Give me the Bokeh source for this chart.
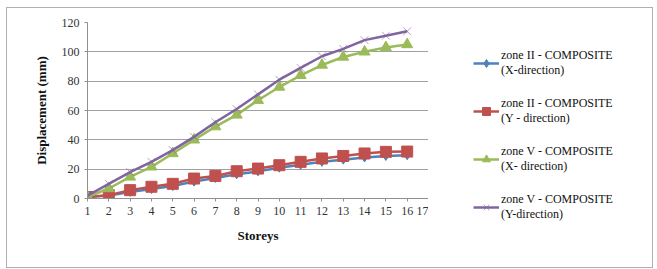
from bokeh.plotting import figure
from bokeh.models import Legend, LegendItem, FixedTicker, Range1d
from bokeh.layouts import row
from bokeh.embed import file_html
from bokeh.resources import INLINE

storeys = list(range(1, 17))
zone2_x = [1, 2, 4.5, 6.5, 8.5, 11.5, 14, 16.5, 18.5, 21, 23, 25, 26.5, 28, 29, 29.5]
zone2_y = [1, 2.3, 5.7, 8, 10, 13.6, 15.4, 18.6, 20.4, 22.7, 25, 27.3, 29, 30.7, 31.8, 32]
zone5_x = [1, 6.8, 14.7, 21.6, 30.7, 40, 49, 57, 67, 76, 84, 91, 96.5, 100, 103, 105]
zone5_y = [2, 10, 18, 25, 33, 42, 52, 61, 71, 81, 89, 97, 102, 108, 111, 114]
labels = ["zone II - COMPOSITE\n(X-direction)", "zone II - COMPOSITE\n(Y - direction)",
          "zone V - COMPOSITE\n(X- direction)", "zone V - COMPOSITE\n(Y-direction)"]
x_ticks = list(range(1, 18))
y_ticks = [0, 20, 40, 60, 80, 100, 120]

serif = "'Liberation Serif', 'Times New Roman', serif"
H = 259

p = figure(width=421, height=H, output_backend="svg", toolbar_location=None,
           x_range=Range1d(1, 17), y_range=Range1d(0, 120),
           min_border_left=80, min_border_right=0, min_border_top=14, min_border_bottom=69)
p.outline_line_color = None

p.xaxis.ticker = FixedTicker(ticks=x_ticks)
p.yaxis.ticker = FixedTicker(ticks=y_ticks)
p.xgrid.visible = False
p.ygrid.grid_line_color = "#a0a0a0"
p.ygrid.grid_line_width = 1
for ax in (p.xaxis, p.yaxis):
    ax.axis_line_color = "#909090"
    ax.major_tick_line_color = "#909090"
    ax.major_tick_out = 3
    ax.major_tick_in = 0
    ax.minor_tick_line_color = None
    ax.major_label_text_font = serif
    ax.major_label_text_font_size = "12px"
    ax.major_label_text_color = "#333333"
    ax.axis_label_text_font = serif
    ax.axis_label_text_font_style = "bold"
    ax.axis_label_text_font_size = "13px"
    ax.axis_label_text_color = "#111111"
p.xaxis.axis_label = "Storeys"
p.yaxis.axis_label = "Displacement (mm)"
p.xaxis.axis_label_standoff = 10
p.yaxis.axis_label_standoff = 10

# legend panel: same series drawn off-view so the legend can sit beside the chart
q = figure(width=224, height=H, output_backend="svg", toolbar_location=None,
           x_range=Range1d(100, 101), y_range=Range1d(0, 120),
           x_axis_type=None, y_axis_type=None,
           min_border_left=0, min_border_right=0, min_border_top=0, min_border_bottom=0)
q.frame_align = False
q.outline_line_color = None
q.grid.visible = False

colors = ["#4F81BD", "#C0504D", "#9BBB59", "#8064A2"]
series = [zone2_x, zone2_y, zone5_x, zone5_y]
markers = ["diamond", "square", "triangle", "x"]
sizes = [9, 11, 11, 11]
items = []
for ys, c, m, s, lab in zip(series, colors, markers, sizes, labels):
    for fig in (p, q):
        l = fig.line(storeys, ys, line_color=c, line_width=2.5)
        if m == "x":
            sc = fig.scatter(storeys, ys, marker=m, size=s, line_color=c, line_alpha=0.6, line_width=1)
        else:
            sc = fig.scatter(storeys, ys, marker=m, size=s, fill_color=c, line_color=c)
    items.append(LegendItem(label=lab, renderers=[l, sc]))

legend = Legend(items=items, location=(45, 45), border_line_color=None,
                background_fill_alpha=0, label_text_font=serif, label_text_font_size="12px",
                label_text_color="#111111", glyph_width=26, spacing=18, padding=0,
                margin=0, label_standoff=2)
q.add_layout(legend, "center")

layout = row(p, q)
layout.styles = {"border": "1px solid #b0b0b0", "margin-top": "7px", "margin-left": "6px"}

open("out.html", "w").write(file_html(layout, INLINE))
